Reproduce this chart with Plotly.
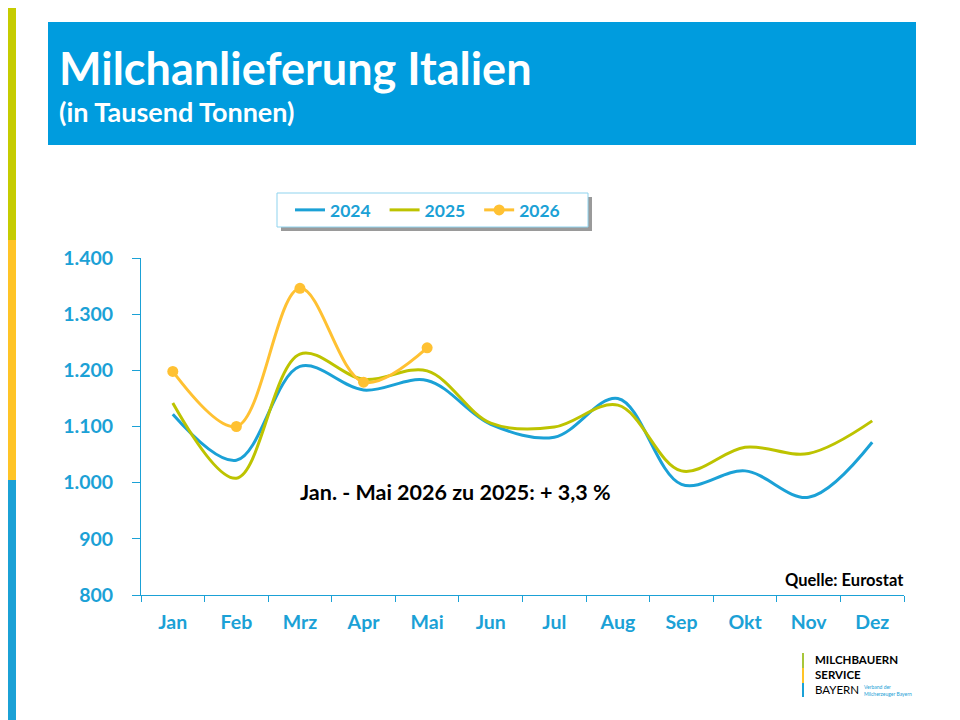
import plotly.graph_objects as go

months = ["Jan", "Feb", "Mrz", "Apr", "Mai", "Jun", "Jul", "Aug", "Sep", "Okt", "Nov", "Dez"]
milk_2024 = [1122, 1040, 1207, 1165, 1182, 1104, 1081, 1150, 997, 1021, 974, 1072]
milk_2025 = [1142, 1008, 1229, 1184, 1199, 1106, 1099, 1138, 1021, 1063, 1052, 1110]
milk_2026 = [1198, 1100, 1346, 1179, 1240]

BLUE = "#1BA1D6"
GREEN = "#BDC300"
ORANGE = "#FFC132"
HEAD = "#009CDE"
FONT = "Lato"
GAP = "\u00a0\u00a0"  # extra room between legend items


# page coordinates (px) -> paper coordinates of the plot area (141..904 x 258..595)
def px(x):
    return (x - 141) / 763


def py(y):
    return (595 - y) / 337


fig = go.Figure()

fig.add_trace(go.Scatter(
    x=months, y=milk_2024, name="<b>2024</b>" + GAP, mode="lines",
    line=dict(color=BLUE, width=3, shape="spline", smoothing=1.0)))
fig.add_trace(go.Scatter(
    x=months, y=milk_2025, name="<b>2025</b>" + GAP, mode="lines",
    line=dict(color=GREEN, width=3, shape="spline", smoothing=1.0)))
fig.add_trace(go.Scatter(
    x=months[:len(milk_2026)], y=milk_2026, name="<b>2026</b>", mode="lines+markers",
    line=dict(color=ORANGE, width=3, shape="spline", smoothing=1.0),
    marker=dict(size=11, color=ORANGE)))

shapes = [
    # header box
    dict(type="rect", xref="paper", yref="paper", x0=px(48), x1=px(916), y0=py(22), y1=py(145),
         fillcolor=HEAD, line_width=0, layer="below"),
    # left colour stripe
    dict(type="rect", xref="paper", yref="paper", x0=px(8), x1=px(16), y0=py(0), y1=py(240),
         fillcolor="#C6CC00", line_width=0),
    dict(type="rect", xref="paper", yref="paper", x0=px(8), x1=px(16), y0=py(240), y1=py(480),
         fillcolor="#FFC426", line_width=0),
    dict(type="rect", xref="paper", yref="paper", x0=px(8), x1=px(16), y0=py(480), y1=py(730),
         fillcolor="#1BA1D6", line_width=0),
    # legend box with shadow
    dict(type="rect", xref="paper", yref="paper", x0=px(281), x1=px(592), y0=py(197), y1=py(231),
         fillcolor="#9A9A9A", line_width=0, layer="below"),
    dict(type="rect", xref="paper", yref="paper", x0=px(277), x1=px(588), y0=py(193), y1=py(227),
         fillcolor="white", line=dict(color="#8FD3EE", width=1), layer="below"),
    # logo bars
    dict(type="rect", xref="paper", yref="paper", x0=px(802), x1=px(804), y0=py(653), y1=py(668),
         fillcolor="#A8C63A", line_width=0),
    dict(type="rect", xref="paper", yref="paper", x0=px(802), x1=px(804), y0=py(668), y1=py(683),
         fillcolor="#FFC426", line_width=0),
    dict(type="rect", xref="paper", yref="paper", x0=px(802), x1=px(804), y0=py(683), y1=py(697),
         fillcolor="#1BA1D6", line_width=0),
]

annotations = [
    dict(text="<b>Milchanlieferung Italien</b>", xref="paper", yref="paper",
         x=px(57), y=py(68), xanchor="left", yanchor="middle", showarrow=False,
         font=dict(family=FONT, size=45, color="white")),
    dict(text="<b>(in Tausend Tonnen)</b>", xref="paper", yref="paper",
         x=px(57), y=py(112), xanchor="left", yanchor="middle", showarrow=False,
         font=dict(family=FONT, size=27, color="white")),
    dict(text="<b>Jan. - Mai 2026 zu 2025: + 3,3 %</b>", xref="paper", yref="paper",
         x=px(455), y=py(492), xanchor="center", yanchor="middle", showarrow=False,
         font=dict(family=FONT, size=21.5, color="black")),
    dict(text="<b>Quelle: Eurostat</b>", xref="paper", yref="paper",
         x=px(906), y=py(580), xanchor="right", yanchor="middle", showarrow=False,
         font=dict(family=FONT, size=16.5, color="black")),
    dict(text="<b>MILCHBAUERN<br>SERVICE</b><br>BAYERN", xref="paper", yref="paper", align="left",
         x=px(813), y=py(674), xanchor="left", yanchor="middle", showarrow=False,
         font=dict(family=FONT, size=11.5, color="black")),
    dict(text="Verband der<br>Milcherzeuger Bayern", xref="paper", yref="paper", align="left",
         x=px(862), y=py(690), xanchor="left", yanchor="middle", showarrow=False,
         font=dict(family=FONT, size=5, color="#1BA1D6")),
]

# the page body adds an 8px offset, so the figure is 8px smaller and margins are shifted
fig.update_layout(
    width=952, height=712,
    margin=dict(l=133, r=56, t=250, b=125),
    paper_bgcolor="white", plot_bgcolor="white",
    separators=",.",
    font=dict(family=FONT, color=BLUE),
    showlegend=True,
    legend=dict(orientation="h", x=px(290), y=py(210), xanchor="left", yanchor="middle",
                bgcolor="rgba(0,0,0,0)", borderwidth=0,
                font=dict(family=FONT, size=17.5, color=BLUE), itemwidth=30,
                traceorder="normal"),
    xaxis=dict(range=[-0.5, 11.5], showgrid=False, showline=True, linecolor=BLUE, linewidth=1,
               ticks="outside", tickson="boundaries", ticklen=6, tickcolor=BLUE,
               ticklabelstandoff=10,
               tickfont=dict(family=FONT, size=19.5, color=BLUE), fixedrange=True),
    yaxis=dict(range=[800, 1400], dtick=100, tickformat=",d", showgrid=False, showline=True,
               linecolor=BLUE, linewidth=1, ticks="outside", ticklen=8, tickcolor=BLUE,
               ticklabelstandoff=15,
               tickfont=dict(family=FONT, size=19.5, color=BLUE), zeroline=False),
    shapes=shapes,
    annotations=annotations,
)

fig.update_xaxes(tickprefix="<b>", ticksuffix="</b>")
fig.update_yaxes(tickprefix="<b>", ticksuffix="</b>")

fig.write_html("out.html")
